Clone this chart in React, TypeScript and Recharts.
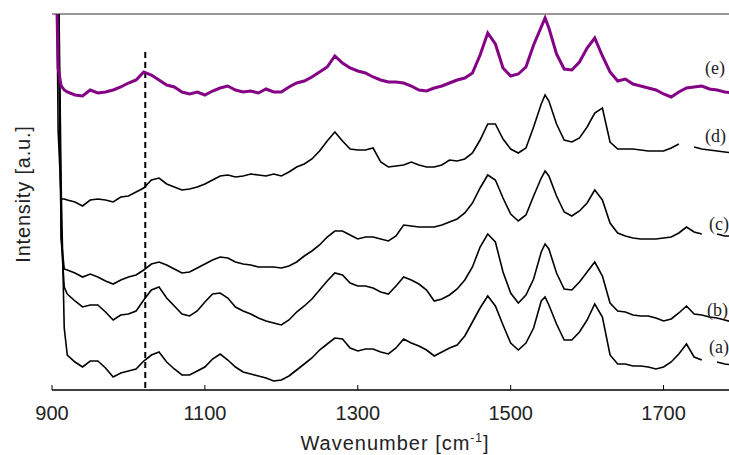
import React from 'react';
import { LineChart, Line, XAxis, YAxis, ReferenceLine } from 'recharts';

// wavenumber grid (cm-1)
const wavenumbers = [
  900, 904, 908, 912, 916,
  920, 930, 940, 950, 960, 970, 980, 990, 1000, 1010,
  1020, 1030, 1040, 1050, 1060, 1070, 1080, 1090, 1100, 1110,
  1120, 1130, 1140, 1150, 1160, 1170, 1180, 1190, 1200, 1210,
  1220, 1230, 1240, 1250, 1260, 1270, 1280, 1290, 1300, 1310,
  1320, 1330, 1340, 1350, 1360, 1370, 1380, 1390, 1400, 1410,
  1420, 1430, 1440, 1450, 1460, 1470, 1480, 1490, 1500, 1510,
  1520, 1530, 1540, 1545, 1550, 1560, 1570, 1580, 1590, 1600, 1610,
  1620, 1630, 1640, 1650, 1660, 1670, 1680, 1690, 1700, 1710,
  1720, 1730, 1740, 1750, 1760, 1770, 1780, 1790,
];

// offset intensities, arbitrary units
const spectrumA = [
  700, 650, 450, 200, 60,
  33, 26, 21, 27, 27, 20, 11, 15, 17, 19,
  27, 33, 36, 26, 19, 13, 13, 17, 21, 29,
  34, 28, 21, 16, 14, 12, 10, 7, 8, 12,
  18, 24, 30, 38, 44, 50, 49, 40, 37, 39,
  39, 36, 34, 40, 49, 45, 42, 38, 32, 36,
  40, 43, 52, 66, 80, 92, 82, 63, 45, 38,
  45, 60, 87, 91, 83, 64, 48, 48, 56, 68, 84,
  71, 33, 24, 24, 22, 22, 21, 19, 21, 26,
  34, 44, 31, 28, null, 26, 24, 23,
];

const spectrumB = [
  700, 600, 420, 150, 101,
  94, 87, 81, 83, 83, 76, 68, 73, 74, 77,
  88, 98, 101, 90, 82, 74, 72, 77, 86, 94,
  95, 90, 81, 77, 74, 70, 67, 65, 63, 68,
  76, 82, 89, 98, 107, 115, 113, 105, 102, 102,
  100, 96, 94, 102, 111, 108, 104, 98, 87, 89,
  93, 99, 108, 121, 141, 154, 146, 116, 95, 85,
  93, 109, 136, 144, 139, 115, 99, 98, 106, 116, 126,
  112, 85, 77, 76, 73, 72, 72, 70, 67, 69,
  75, 82, 74, 73, 71, 70, 68, 66,
];

const spectrumC = [
  700, 600, 400, 150, 119,
  118, 115, 111, 114, 111, 107, 104, 108, 111, 113,
  118, 124, 126, 123, 119, 115, 116, 120, 124, 128,
  131, 130, 126, 124, 123, 121, 121, 121, 120, 122,
  126, 132, 137, 143, 151, 157, 157, 153, 149, 151,
  151, 149, 147, 152, 163, 162, 161, 161, 161, 163,
  166, 169, 175, 185, 200, 213, 208, 190, 174, 167,
  173, 192, 210, 217, 212, 192, 176, 172, 177, 185, 198,
  188, 165, 155, 152, 150, 149, 149, 149, 150, 151,
  155, 161, 156, 154, null, 154, 152, 152,
];

const spectrumD = [
  700, 600, 258, 189, 189,
  188, 186, 182, 188, 189, 188, 186, 191, 192, 196,
  200, 208, 210, 204, 201, 198, 199, 201, 204, 208,
  212, 213, 211, 212, 214, 213, 212, 214, 212, 216,
  221, 224, 229, 237, 247, 256, 247, 239, 238, 238,
  240, 226, 221, 222, 223, 226, 223, 221, 221, 223,
  228, 227, 229, 235, 248, 264, 264, 249, 239, 235,
  240, 261, 284, 293, 287, 264, 248, 246, 250, 261, 275,
  280, 246, 239, 239, 239, 238, 237, 237, 237, 240,
  244, null, 241, 239, 238, 237, 236, 235,
];

const spectrumE = [
  700, 480, 320, 302, 298,
  296, 293, 292, 298, 295, 296, 298, 301, 305, 308,
  316, 313, 308, 303, 301, 296, 294, 296, 293, 297,
  300, 302, 298, 296, 297, 295, 299, 296, 296, 301,
  305, 307, 311, 316, 321, 332, 325, 320, 317, 315,
  311, 308, 306, 306, 305, 302, 298, 297, 300, 302,
  305, 308, 310, 315, 333, 355, 344, 320, 312, 314,
  321, 343, 361, 370, 360, 334, 319, 318, 326, 340, 350,
  332, 316, 307, 309, 304, 302, 300, 298, 294, 291,
  296, 300, 301, 302, 299, 298, 296, 295,
];

const xTicks = [900, 1100, 1300, 1500, 1700];
const curveLabels = ['(a)', '(b)', '(c)', '(d)', '(e)'];
const markerWavenumber = 1022;

const rows = wavenumbers.map((w, i) => ({
  w,
  a: spectrumA[i],
  b: spectrumB[i],
  c: spectrumC[i],
  d: spectrumD[i],
  e: spectrumE[i],
}));

// label placement on the right edge, same order as curveLabels
const labelPos = [
  { left: 709, top: 347 },
  { left: 707, top: 310 },
  { left: 709, top: 224 },
  { left: 705, top: 136 },
  { left: 705, top: 68 },
];

export default function App() {
  return (
    <div
      style={{
        position: 'absolute',
        left: 0,
        top: 0,
        width: 729,
        height: 455,
        overflow: 'hidden',
        background: '#fff',
        fontFamily: '"Liberation Sans", Arial, sans-serif',
        color: '#222',
      }}
    >
      <LineChart
        width={760}
        height={455}
        data={rows}
        margin={{ top: 14, right: 20, bottom: 35, left: 52 }}
      >
        <XAxis
          dataKey="w"
          type="number"
          domain={[900, 1800]}
          ticks={xTicks}
          allowDataOverflow
          height={30}
          stroke="#000"
          axisLine={{ stroke: '#000', strokeWidth: 1.5 }}
          tickSize={-5}
          tickMargin={21}
          tick={{ fontSize: 20, fill: '#222' }}
        />
        <YAxis
          type="number"
          domain={[-2, 374]}
          allowDataOverflow
          width={0}
          tick={false}
          tickLine={false}
          axisLine={{ stroke: '#000', strokeWidth: 2 }}
        />
        <ReferenceLine y={374} stroke="#999" strokeWidth={2} />
        <ReferenceLine
          segment={[
            { x: markerWavenumber, y: 336 },
            { x: markerWavenumber, y: -2 },
          ]}
          stroke="#000"
          strokeWidth={2}
          strokeDasharray="6 4"
        />
        <Line type="linear" dataKey="a" stroke="#000" strokeWidth={1.6} dot={false} isAnimationActive={false} />
        <Line type="linear" dataKey="b" stroke="#000" strokeWidth={1.6} dot={false} isAnimationActive={false} />
        <Line type="linear" dataKey="c" stroke="#000" strokeWidth={1.6} dot={false} isAnimationActive={false} />
        <Line type="linear" dataKey="d" stroke="#000" strokeWidth={1.6} dot={false} isAnimationActive={false} />
        <Line type="linear" dataKey="e" stroke="#840084" strokeWidth={3} dot={false} isAnimationActive={false} />
      </LineChart>

      {curveLabels.map((label, i) => (
        <div
          key={label}
          style={{
            position: 'absolute',
            left: labelPos[i].left,
            top: labelPos[i].top,
            transform: 'translateY(-50%)',
            fontFamily: '"Liberation Serif", serif',
            fontSize: 18,
            whiteSpace: 'nowrap',
          }}
        >
          {label}
        </div>
      ))}

      <div
        style={{
          position: 'absolute',
          left: 23,
          top: 194,
          transform: 'translate(-50%, -50%) rotate(-90deg)',
          fontSize: 20,
          letterSpacing: 0.8,
          whiteSpace: 'nowrap',
        }}
      >
        Intensity [a.u.]
      </div>

      <div
        style={{
          position: 'absolute',
          left: 395,
          top: 443,
          transform: 'translate(-50%, -50%)',
          fontSize: 20,
          letterSpacing: 1,
          whiteSpace: 'nowrap',
        }}
      >
        Wavenumber [cm<sup style={{ fontSize: 12 }}>-1</sup>]
      </div>
    </div>
  );
}
